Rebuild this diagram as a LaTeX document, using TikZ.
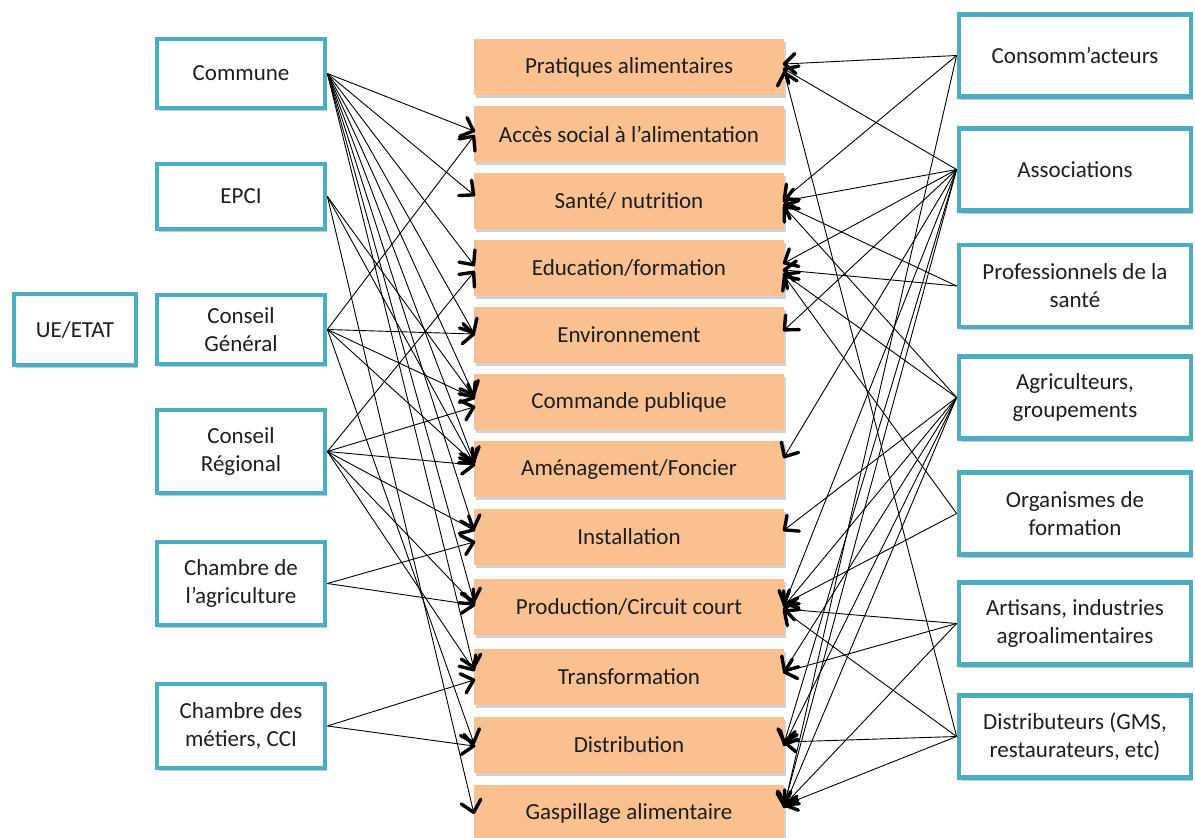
\documentclass[tikz,border=0pt]{standalone}
\usepackage{fontspec}
\setmainfont{Carlito}
\usetikzlibrary{shadows,decorations.markings}
\definecolor{boxblue}{HTML}{4BACC6}
\definecolor{boxorange}{HTML}{FAC090}
\definecolor{txt}{HTML}{1E1E1E}
\begin{document}
\begin{tikzpicture}[x=1pt,y=-1pt,
  actor/.style={draw=boxblue,line width=4.8pt,fill=white,align=center,text=txt,
    font=\fontsize{23}{28}\selectfont,
    drop shadow={shadow xshift=2pt,shadow yshift=-3pt,opacity=0.3,fill=black!70}},
  lactor/.style={actor,minimum width=168pt},
  ractor/.style={actor,minimum width=232pt,minimum height=82pt},
  theme/.style={fill=boxorange,minimum width=310pt,minimum height=56pt,text=txt,
    font=\fontsize{23}{28}\selectfont,
    drop shadow={shadow xshift=2pt,shadow yshift=-3pt,opacity=0.25,fill=black!70}},
  conn/.style={line width=0.9pt,black,
    decoration={markings,mark=at position 0.999 with
      {\draw[line width=3.4pt,line cap=round,line join=round]
        (-11pt,10pt) -- (0pt,0pt) -- (-11pt,-10pt);}},
    postaction={decorate}}]
\useasboundingbox (0,0) rectangle (1195,838);

% central themes
\node[theme] (t1) at (629,67) {Pratiques alimentaires};
\node[theme] (t2) at (629,134) {Accès social à l’alimentation};
\node[theme] (t3) at (629,201) {Santé/ nutrition};
\node[theme] (t4) at (629,268) {Education/formation};
\node[theme] (t5) at (629,335) {Environnement};
\node[theme] (t6) at (629,402) {Commande publique};
\node[theme] (t7) at (629,469) {Aménagement/Foncier};
\node[theme] (t8) at (629,537) {Installation};
\node[theme] (t9) at (629,607) {Production/Circuit court};
\node[theme] (t10) at (629,677) {Transformation};
\node[theme] (t11) at (629,745) {Distribution};
\node[theme] (t12) at (629,813) {Gaspillage alimentaire};

% left actors
\node[lactor,minimum height=69pt] (commune) at (241,73.5) {Commune};
\node[lactor,minimum height=65pt] (epci) at (241,196.5) {EPCI};
\node[lactor,minimum height=69pt] (cg) at (241,329.5) {Conseil\\Général};
\node[lactor,minimum height=83pt] (cr) at (241,451.5) {Conseil\\Régional};
\node[lactor,minimum height=83pt] (agri) at (241,583.5) {Chambre de\\l’agriculture};
\node[lactor,minimum height=84pt] (metiers) at (241,726) {Chambre des\\métiers, CCI};
\node[actor,minimum width=122pt,minimum height=71pt] (ue) at (75,329.5) {UE/ETAT};

% right actors
\node[ractor] (cons) at (1075,55.5) {Consomm’acteurs};
\node[ractor] (assoc) at (1075,169.5) {Associations};
\node[ractor] (prof) at (1075,286) {Professionnels de la\\santé};
\node[ractor] (agric) at (1075,397.5) {Agriculteurs,\\groupements};
\node[ractor] (orga) at (1075,513.5) {Organismes de\\formation};
\node[ractor] (artis) at (1075,623.5) {Artisans, industries\\agroalimentaires};
\node[ractor] (distr) at (1075,736.5) {Distributeurs (GMS,\\restaurateurs, etc)};

% left connectors
\foreach \t/\s in {t2/3,t3/6,t4/3,t5/2,t6/7,t7/8,t8/8,t9/5,t10/9}
  \draw[conn] (commune.east) -- ([yshift=\s pt]\t.west);
\foreach \t/\s in {t6/5,t7/6,t12/0}
  \draw[conn] (epci.east) -- ([yshift=\s pt]\t.west);
\foreach \t/\s in {t2/-2,t5/1,t6/4,t7/6,t11/2}
  \draw[conn] (cg.east) -- ([yshift=\s pt]\t.west);
\foreach \t/\s in {t4/-4,t6/-5,t7/4,t8/7,t9/3,t10/7}
  \draw[conn] (cr.east) -- ([yshift=\s pt]\t.west);
\foreach \t/\s in {t8/-5,t9/2}
  \draw[conn] (agri.east) -- ([yshift=\s pt]\t.west);
\foreach \t/\s in {t10/-3,t11/-1}
  \draw[conn] (metiers.east) -- ([yshift=\s pt]\t.west);

% right connectors
\foreach \t/\s in {t1/3,t3/2,t12/6}
  \draw[conn] (cons.west) -- ([yshift=\s pt]\t.east);
\foreach \t/\s in {t1/-2,t3/0,t4/5,t5/5,t7/12,t9/2,t11/2,t12/8}
  \draw[conn] (assoc.west) -- ([yshift=\s pt]\t.east);
\foreach \t/\s in {t3/-4,t4/-2}
  \draw[conn] (prof.west) -- ([yshift=\s pt]\t.east);
\foreach \t/\s in {t3/-6,t4/-6,t8/7,t9/1,t10/6,t11/0,t12/6}
  \draw[conn] (agric.west) -- ([yshift=\s pt]\t.east);
\foreach \t/\s in {t4/-8,t9/3}
  \draw[conn] (orga.west) -- ([yshift=\s pt]\t.east);
\foreach \t/\s in {t9/-2,t10/5,t12/8}
  \draw[conn] (artis.west) -- ([yshift=\s pt]\t.east);
\foreach \t/\s in {t1/-5,t9/-4,t11/3,t12/8}
  \draw[conn] (distr.west) -- ([yshift=\s pt]\t.east);
\end{tikzpicture}
\end{document}
